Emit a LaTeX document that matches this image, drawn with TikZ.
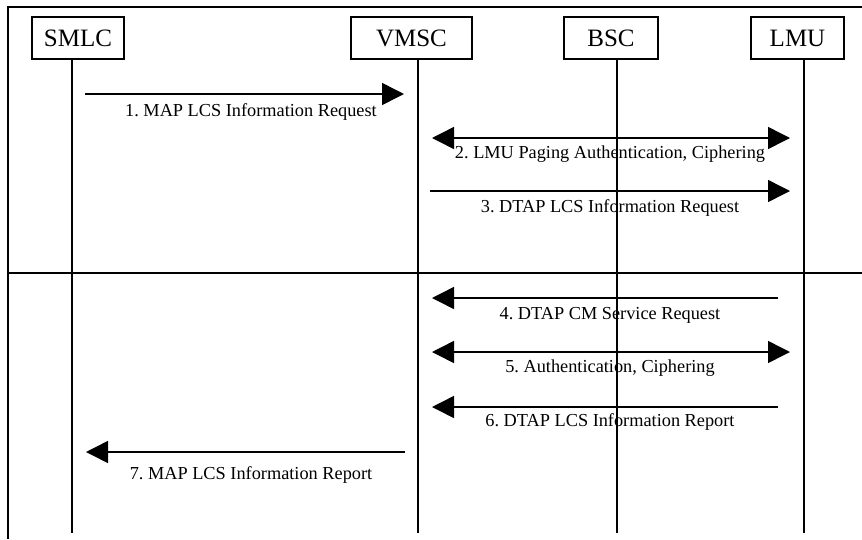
\documentclass[tikz,border=0pt]{standalone}
\usepackage{fontspec}
\setmainfont{Liberation Serif}
\usetikzlibrary{arrows.meta}
\frenchspacing
\begin{document}
\begin{tikzpicture}[x=1pt,y=-1pt,
 entity/.style={draw,line width=1.2pt,minimum width=#1,minimum height=42pt,inner sep=0pt,font=\fontsize{25}{25}\selectfont},
 life/.style={line width=1.5pt},
 msg/.style={line width=1.5pt,-{Triangle[length=22pt,width=22pt]}},
 bimsg/.style={line width=1.5pt,{Triangle[length=22pt,width=22pt]}-{Triangle[length=22pt,width=22pt]}},
 lbl/.style={font=\fontsize{18.3}{18.3}\selectfont\frenchspacing,inner sep=0pt},
 framel/.style={line width=2pt}]
\useasboundingbox (0,0) rectangle (862,539);
% frame
\coordinate (fTL) at (8,7);
\coordinate (fTR) at (862,7);
\coordinate (fBL) at (8,539);
\coordinate (dL) at (8,273);
\coordinate (dR) at (862,273);
\draw[framel] (fTR) -- (fTL) -- (fBL);
\draw[framel] (dL) -- (dR);
% entities
\node[entity=92pt] (SMLC) at (78,38) {SMLC};
\node[entity=121pt] (VMSC) at (411.5,38) {VMSC};
\node[entity=94pt] (BSC) at (611,38) {BSC};
\node[entity=93pt] (LMU) at (797.5,38) {LMU};
% lifelines
\coordinate (smlcEnd) at (72,533);
\coordinate (vmscEnd) at (418,533);
\coordinate (bscEnd) at (617,533);
\coordinate (lmuEnd) at (804,533);
\draw[life] (SMLC.south -| smlcEnd) -- (smlcEnd);
\draw[life] (VMSC.south -| vmscEnd) -- (vmscEnd);
\draw[life] (BSC.south -| bscEnd) -- (bscEnd);
\draw[life] (LMU.south -| lmuEnd) -- (lmuEnd);
% messages
\coordinate (m1a) at (85,94);   \coordinate (m1b) at (404,94);
\coordinate (m2a) at (432,138); \coordinate (m2b) at (790,138);
\coordinate (m3a) at (430,191); \coordinate (m3b) at (790,191);
\coordinate (m4a) at (778,298); \coordinate (m4b) at (432,298);
\coordinate (m5a) at (432,352); \coordinate (m5b) at (790,352);
\coordinate (m6a) at (778,407); \coordinate (m6b) at (432,407);
\coordinate (m7a) at (405,452); \coordinate (m7b) at (86,452);
\draw[msg] (m1a) -- (m1b);
\draw[bimsg] (m2a) -- (m2b);
\draw[msg] (m3a) -- (m3b);
\draw[msg] (m4a) -- (m4b);
\draw[bimsg] (m5a) -- (m5b);
\draw[msg] (m6a) -- (m6b);
\draw[msg] (m7a) -- (m7b);
\node[lbl] (l1) at (251,112) {1. MAP LCS Information Request};
\node[lbl] (l2) at (610,154) {2. LMU Paging Authentication, Ciphering};
\node[lbl] (l3) at (610,208) {3. DTAP LCS Information Request};
\node[lbl] (l4) at (610,315) {4. DTAP CM Service Request};
\node[lbl] (l5) at (610,368) {5. Authentication, Ciphering};
\node[lbl] (l6) at (610,422) {6. DTAP LCS Information Report};
\node[lbl] (l7) at (251,475) {7. MAP LCS Information Report};
\end{tikzpicture}
\end{document}
